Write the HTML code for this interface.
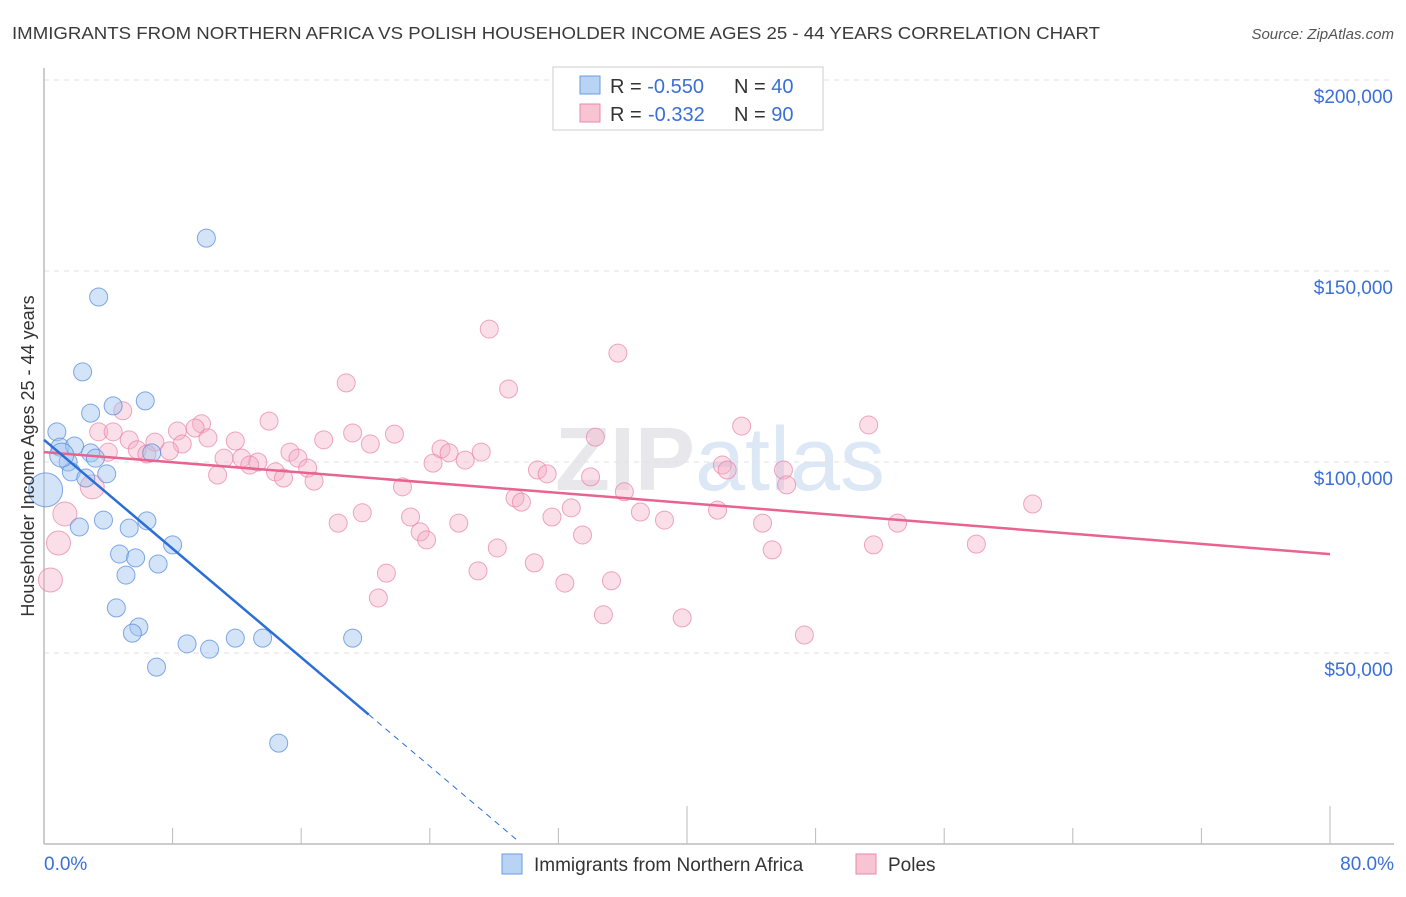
<!DOCTYPE html>
<html><head><meta charset="utf-8"><style>
body{margin:0;background:#fff;font-family:"Liberation Sans",sans-serif;}
svg text{font-family:"Liberation Sans",sans-serif;}
</style></head><body>
<svg width="1406" height="892" viewBox="0 0 1406 892" xmlns="http://www.w3.org/2000/svg">
<text x="12" y="39" font-size="17.5" fill="#3a3a3a" textLength="1088" lengthAdjust="spacingAndGlyphs">IMMIGRANTS FROM NORTHERN AFRICA VS POLISH HOUSEHOLDER INCOME AGES 25 - 44 YEARS CORRELATION CHART</text>
<text x="1394" y="39" font-size="15" fill="#555" font-style="italic" text-anchor="end">Source: ZipAtlas.com</text>
<text x="720" y="490" font-size="90" fill="#e8e8ec" text-anchor="middle" font-weight="bold">ZIP<tspan fill="#dde8f6" font-weight="normal">atlas</tspan></text>
<g id="grid"></g>
<g id="axes"></g>
<g id="marks"></g>
<text transform="translate(34,456) rotate(-90)" font-size="18" fill="#333" text-anchor="middle">Householder Income Ages 25 - 44 years</text>
<text x="44" y="870" font-size="19" fill="#3a6fd8">0.0%</text>
<text x="1394" y="870" font-size="19" fill="#3a6fd8" text-anchor="end">80.0%</text>
<g>
<rect x="553" y="67" width="270" height="63" fill="#fff" stroke="#ccc"/>
<rect x="580" y="76" width="20" height="18" fill="#b9d3f5" stroke="#6b9be0"/>
<rect x="580" y="104" width="20" height="18" fill="#f8c3d3" stroke="#e88aa8"/>
<text x="610" y="93" font-size="20" fill="#333">R = <tspan fill="#3a6fd8">-0.550</tspan>  <tspan x="734">N = </tspan><tspan fill="#3a6fd8">40</tspan></text>
<text x="610" y="121" font-size="20" fill="#333">R = <tspan x="648" fill="#3a6fd8">-0.332</tspan>  <tspan x="734">N = </tspan><tspan fill="#3a6fd8">90</tspan></text>
</g>
<g>
<rect x="502" y="854" width="20" height="20" fill="#b9d3f5" stroke="#6b9be0"/>
<text x="534" y="871" font-size="19" fill="#333">Immigrants from Northern Africa</text>
<rect x="856" y="854" width="20" height="20" fill="#f8c3d3" stroke="#e88aa8"/>
<text x="888" y="871" font-size="19" fill="#333">Poles</text>
</g>
</svg>
<script>
const yTicks=[50000,100000,150000,200000];
const yTickLabels=["$50,000","$100,000","$150,000","$200,000"];
const xTicks=[0,8,16,24,32,40,48,56,64,72,80];
const blueX=[10.1,3.4,2.4,6.3,4.3,2.9,0.8,1.0,1.9,2.9,1.5,3.2,6.7,1.7,3.9,2.6,0.1,3.7,2.2,5.3,6.4,8.0,4.7,5.7,7.1,5.1,4.5,5.9,5.5,8.9,10.3,11.9,13.6,19.2,7.0,14.6,1.1];
const blueY=[158.6,143.2,123.6,116,114.7,112.8,107.9,103.9,104.2,102.4,100,101,102.4,97.4,96.9,95.8,92.7,84.8,83,82.7,84.6,78.3,75.9,74.9,73.3,70.4,61.8,56.8,55.2,52.4,51,53.9,53.9,53.9,46.3,26.4,101.8];
const blueR=[9,9,9,9,9,9,9,9,9,9,9,9,9,9,9,9,17,9,9,9,9,9,9,9,9,9,9,9,9,9,9,9,9,9,9,9,12];
const pinkX=[27.7,35.7,18.8,28.9,4.9,14.0,43.4,51.3,9.8,9.4,8.3,3.4,4.3,19.2,21.8,17.4,5.3,6.9,10.2,11.9,8.6,20.3,34.3,24.7,25.2,27.2,5.8,6.4,7.8,4.0,15.3,15.8,11.2,12.3,13.3,12.8,26.2,24.2,14.4,16.4,10.8,14.9,16.8,42.2,42.5,46,30.7,31.3,34.0,46.2,22.3,36.1,29.3,29.7,61.5,32.8,37.1,19.8,22.8,31.6,41.9,38.6,25.8,18.3,44.7,53.1,23.4,23.8,33.5,28.2,51.6,58,45.3,30.5,27,21.3,35.3,32.4,20.8,34.8,39.7,47.3,3.0,1.3,0.9,0.4];
const pinkY=[134.8,128.5,120.7,119.1,113.4,110.7,109.4,109.7,110,108.9,108.1,107.9,107.9,107.6,107.3,105.8,105.8,105.2,106.3,105.5,104.7,104.7,106.5,103.4,102.4,102.6,103.2,102.1,102.9,102.6,102.6,101,101,101,100,99.2,100.5,99.7,97.4,98.4,96.6,95.8,95,99.2,97.9,97.9,97.9,96.9,96.1,94,93.5,92.2,90.6,89.5,89,88,86.9,86.7,85.6,85.6,87.4,84.8,84,84,84,84,81.7,79.6,80.9,77.5,78.3,78.5,77,73.6,71.5,70.9,68.9,68.3,64.4,60,59.2,54.7,93.5,86.4,78.8,69.1];
const blueLine=[105.8,-3.56]; const blueSolidEnd=20.2; const blueDashEnd=29.4;
const pinkLine=[102.6,-0.334];
const NS="http://www.w3.org/2000/svg";
const X0=44,X1=1330,YB=844;
function sx(v){return X0+(v/80)*(X1-X0);}
function sy(k){return YB-(k*1000)*191/50000;}
function mk(t,a,p){const e=document.createElementNS(NS,t);for(const k in a)e.setAttribute(k,a[k]);p.appendChild(e);return e;}
const grid=document.getElementById('grid'),axes=document.getElementById('axes'),marks=document.getElementById('marks');
yTicks.forEach((v,i)=>{
 const l=mk('line',{x1:X0,x2:1394,y1:sy(v/1000),y2:sy(v/1000),stroke:'#e2e2e2','stroke-dasharray':'5,5'},grid);
 
 
 const t=mk('text',{x:1393,y:sy(v/1000)+23,'font-size':19,fill:'#3a6fd8','text-anchor':'end'},grid);
 t.textContent=yTickLabels[i];
 
 
});
const al=mk('line',{x1:X0,x2:1394,y1:YB,y2:YB,stroke:'#bbb','stroke-width':1.5},axes);


const yl=mk('line',{x1:X0,x2:X0,y1:68,y2:YB,stroke:'#bbb','stroke-width':1.5},axes);


xTicks.forEach(v=>{
 const tall=(v===40||v===80);
 const t=mk('line',{x1:sx(v),x2:sx(v),y1:tall?806:828,y2:YB,stroke:'#bbb'},axes);
 
 
});
pinkX.forEach((x,i)=>{
 const r=i>=82?12:9;
 const c=mk('circle',{cx:sx(x),cy:sy(pinkY[i]),r:r,fill:'rgba(244,170,195,0.38)',stroke:'rgba(232,130,165,0.7)','stroke-width':1},marks);
 
 
});
blueX.forEach((x,i)=>{
 const c=mk('circle',{cx:sx(x),cy:sy(blueY[i]),r:blueR[i],fill:'rgba(160,195,240,0.45)',stroke:'rgba(90,140,220,0.75)','stroke-width':1},marks);
 
 
});
const pl=mk('line',{x1:sx(0),y1:sy(pinkLine[0]),x2:sx(80),y2:sy(pinkLine[0]+pinkLine[1]*80),stroke:'#e8638f','stroke-width':2.5},marks);


const bl=mk('line',{x1:sx(0),y1:sy(blueLine[0]),x2:sx(blueSolidEnd),y2:sy(blueLine[0]+blueLine[1]*blueSolidEnd),stroke:'#2b6fd6','stroke-width':2.5},marks);


const bd=mk('line',{x1:sx(blueSolidEnd),y1:sy(blueLine[0]+blueLine[1]*blueSolidEnd),x2:sx(blueDashEnd),y2:sy(blueLine[0]+blueLine[1]*blueDashEnd),stroke:'#2b6fd6','stroke-width':1,'stroke-dasharray':'6,5'},marks);


</script>
</body></html>
